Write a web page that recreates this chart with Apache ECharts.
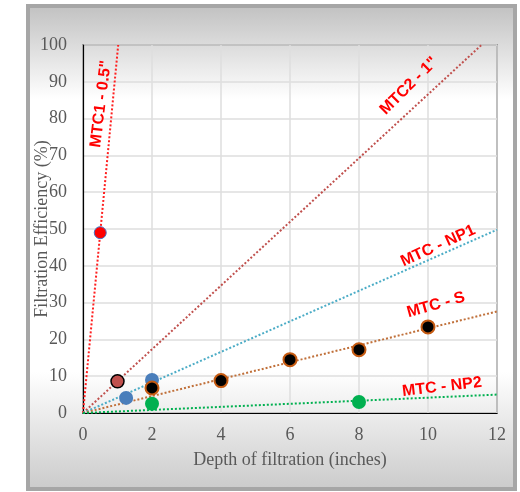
<!DOCTYPE html>
<html><head><meta charset="utf-8">
<script src="https://cdn.jsdelivr.net/npm/echarts@6/dist/echarts.min.js"></script>
<style>
html,body{margin:0;padding:0;background:#fff;}
#frame{position:absolute;left:26px;top:4px;width:483px;height:479px;border:4px solid #a6a6a6;
background:linear-gradient(to bottom,#c3c3c3 0%,#ffffff 19%,#ffffff 76%,#cccccc 100%);}
#main{position:absolute;left:0;top:0;width:520px;height:492px;}
</style></head>
<body>
<div id="frame"></div>
<div id="main"></div>
<script>
// Data points
var mtc1Pts = [[0.5, 49]];
var mtc2Pts = [[1, 8.6]];
var np1Pts = [[1.25, 4.1], [2, 9.0]];
var sPts = [[2, 6.8], [4, 8.8], [6, 14.5], [8, 17.2], [10, 23.4]];
var np2Pts = [[2, 2.5], [8, 3.0]];
// Trendline endpoints
var mtc1Trend = [[0, 0], [1.02, 100]];
var mtc2Trend = [[0, 0], [11.55, 100]];
var np1Trend = [[0, 0], [12, 49.8]];
var sTrend = [[0, 0], [12, 27.6]];
var np2Trend = [[0, 0], [12, 5.0]];
var xTicks = [0, 2, 4, 6, 8, 10, 12];
var yTicks = [0, 10, 20, 30, 40, 50, 60, 70, 80, 90, 100];
var labels = ['MTC1 - 0.5"', 'MTC2 - 1"', 'MTC - NP1', 'MTC - S', 'MTC - NP2'];

var chart = echarts.init(document.getElementById('main'), null, {renderer:'canvas'});
var serif = 'Liberation Serif, Times New Roman, serif';
function trend(d, c){
  return {type:'line', data:d, symbol:'none', silent:true, z:1,
    lineStyle:{color:c, width:2, type:'dotted'}};
}
function pts(d, fill, bc, bw, size){
  return {type:'scatter', data:d, symbolSize:size, z:3,
    itemStyle:{color:fill, borderColor:bc, borderWidth:bw, opacity:1}};
}
function lbl(t, x, y, deg){
  return {type:'text', x:x, y:y, rotation:deg*Math.PI/180, z:10,
    style:{text:t, x:0, y:0, align:'center', verticalAlign:'middle',
      fill:'#ff0000', font:'bold 16px "Liberation Sans", Arial, sans-serif'}};
}
chart.setOption({
  backgroundColor:'transparent',
  animation:false,
  grid:{left:83, right:23, top:45, bottom:79, show:true, borderColor:'#000', borderWidth:1.2, backgroundColor:'transparent'},
  xAxis:{type:'value', min:xTicks[0], max:xTicks[xTicks.length-1], interval:2,
    name:'Depth of filtration (inches)', nameLocation:'middle', nameGap:38, nameMoveOverlap:false,
    nameTextStyle:{fontFamily:serif, fontSize:18, color:'#595959'},
    axisLine:{show:true, lineStyle:{color:'#000', width:1.2}}, axisTick:{show:false},
    axisLabel:{fontFamily:serif, fontSize:18, color:'#595959', margin:13},
    splitLine:{show:true, lineStyle:{color:'#dedede', width:1.5}}},
  yAxis:{type:'value', min:yTicks[0], max:yTicks[yTicks.length-1], interval:10,
    name:'Filtration Efficiency (%)', nameLocation:'middle', nameGap:32, nameRotate:90, nameMoveOverlap:false,
    nameTextStyle:{fontFamily:serif, fontSize:18, color:'#595959'},
    axisLine:{show:true, lineStyle:{color:'#000', width:1.2}}, axisTick:{show:false},
    axisLabel:{fontFamily:serif, fontSize:18, color:'#595959', margin:16},
    splitLine:{show:true, lineStyle:{color:'#dedede', width:1.5}}},
  series:[
    trend(mtc1Trend, '#ff2020'),
    trend(mtc2Trend, '#c0504d'),
    trend(np1Trend, '#4bacc6'),
    trend(sTrend, '#c0703a'),
    trend(np2Trend, '#00b050'),
    pts(mtc1Pts, '#ff0000', '#4472c4', 1, 12),
    pts(mtc2Pts, '#c0504d', '#000000', 1.5, 13),
    pts(np1Pts, '#4a7ebb', '#4a7ebb', 0, 14),
    pts(sPts, '#000000', '#c55a11', 2, 13),
    pts(np2Pts, '#00b050', '#00b050', 0, 14)
  ],
  graphic:[
    lbl(labels[0], 101, 104, 83),
    lbl(labels[1], 409, 86, 45),
    lbl(labels[2], 438, 246, 24.5),
    lbl(labels[3], 436, 305, 15.7),
    lbl(labels[4], 442, 387, 6.5)
  ]
});
</script>
</body></html>
